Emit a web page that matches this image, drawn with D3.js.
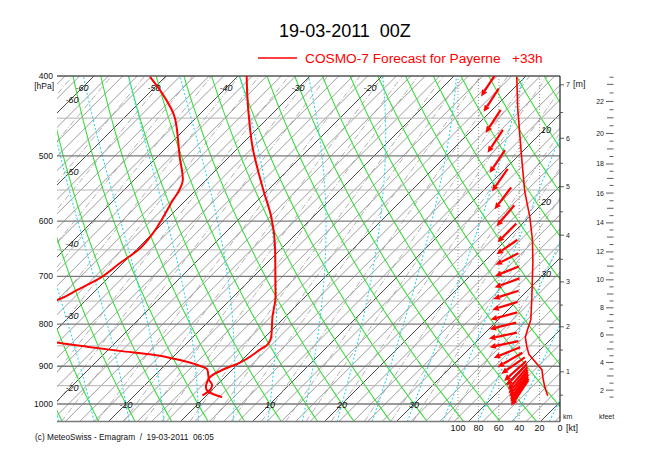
<!DOCTYPE html>
<html><head><meta charset="utf-8">
<script src="https://cdn.jsdelivr.net/npm/d3@7"></script>
<style>
body{margin:0;background:#fff}
svg{display:block}
text{font-family:"Liberation Sans",Arial,Helvetica,sans-serif}
</style>
</head><body>
<svg id="c" width="650" height="460"></svg>
<script>
// ---------------- data ----------------
const title = "19-03-2011  00Z";
const subtitle = "COSMO-7 Forecast for Payerne   +33h";
const footer = "(c) MeteoSwiss - Emagram  /  19-03-2011  06:05";

const pressureLabels = [400, 500, 600, 700, 800, 900, 1000];
const isobars = [400, 450, 500, 550, 600, 650, 700, 750, 800, 850, 900, 950, 1000, 1050];

// temperature profile (hPa, degC)
const tempP = [400, 420, 461, 488, 520, 553, 593, 650, 714, 740, 785, 828, 847, 858, 890, 910, 927, 940, 954, 965, 973, 981];
const tempT = [-38.8, -36.3, -31.3, -28.1, -24.2, -20.3, -15.8, -10.7, -6.0, -4.2, -1.7, 0.8, 1.4, 1.1, 0.1, -1.4, -2.1, -1.8, -1.25, -0.4, 0.8, 2.4];

// dew point profile (hPa, degC)
const dewP = [401, 420, 450, 502, 534, 553, 566, 593, 620, 650, 674, 703, 727, 748, 770, 800, 829, 842, 852, 862, 872, 882, 894, 908, 935, 948, 959, 970, 976];
const dewT = [-52.1, -48.1, -42.9, -36.8, -33.3, -32.2, -31.8, -30.8, -30.0, -29.7, -30.4, -31.1, -32.6, -34.0, -38, -45, -33, -28.2, -23.4, -18.3, -12.8, -9.4, -6.1, -3.5, -1.8, -0.7, -0.3, -0.4, -0.6];

// wind speed profile (hPa, kt)
const speedP = [401, 439, 506, 553, 593, 632, 674, 742, 790, 810, 830, 852, 870, 888, 909, 930, 955, 977];
const speedKt = [42.4, 41.4, 37.4, 34.5, 29.6, 27, 26.6, 27.6, 28.6, 31.5, 34, 32.5, 30.5, 24.6, 17.7, 16.7, 14.8, 12];

// wind arrows: level (hPa), direction (deg, from), arrow length (kt), centre on kt axis
const windP   = [410, 428, 454, 480, 508, 535, 563, 591, 620, 645, 667, 690, 713, 737, 760, 782, 804, 826, 846, 866, 884, 898, 912, 922, 931, 939, 946, 953, 959, 965, 970];
const windDir = [33, 33, 33, 34, 34, 35, 37, 40, 45, 55, 63, 68, 70, 72, 73, 75, 76, 78, 78, 68, 60, 55, 48, 44, 41, 39, 37, 36, 35, 35, 34];
const windLen = [27, 27, 27, 27, 27, 27, 27, 27, 26, 25, 25, 25, 26, 26, 26, 27, 27, 28, 29, 28, 28, 28, 29, 29, 29, 30, 30, 30, 30, 30, 30];
const windPos = [70, 67.5, 65.5, 63.5, 61.5, 59, 56, 53.5, 52, 52, 52, 52, 52, 53, 54, 55, 56, 56, 55, 52, 49, 46, 44, 42.5, 41.5, 41, 40.5, 40, 40, 39.5, 39.5];

// height axis: km levels and their pressures
const heightKm = [0, 1, 2, 3, 4, 5, 6, 7, 8];
const heightP  = [1037, 914, 806, 711, 624, 545, 476, 410, 357];
const kmLabels = [1, 2, 3, 4, 5, 6, 7];
const kfeetLabels = [2, 4, 6, 8, 10, 12, 14, 16, 18, 20, 22];

const ktTicks = [100, 80, 60, 40, 20, 0];
const ktGrid = [20, 40, 60, 80, 100];

const isoTopLabels = [-60, -50, -40, -30, -20];
const isoLeftLabels = [-60, -50, -40, -30, -20];
const isoRightLabels = [10, 20, 30];
const isoBottomLabels = [-10, 0, 10, 20, 30];

const mixRatios = [0.01, 0.02, 0.04, 0.07, 0.1, 0.15, 0.2, 0.3, 0.4, 0.6, 0.8, 1, 1.5, 2, 2.5, 3, 4, 5, 6, 8, 10, 12, 15, 20, 25, 30, 40];
const thetaW = d3.range(-30, 51, 5);
const thetaDry = d3.range(-40, 121, 5);

// ---------------- scales ----------------
const svg = d3.select("#c");
const X0 = 57, X1 = 560, Y0 = 76;
const pTop = 400, pBot = 1050;
const y = d3.scaleLog().domain([pTop, pBot]).range([Y0, Y0 + 358 * Math.log(pBot / pTop)]);
const Y1 = y(pBot);
const xT = d3.scaleLinear().domain([0, 10]).range([198, 270]);
const y1000 = y(1000);
const sx = (T, p) => xT(T) + (y1000 - y(p));
const kt = d3.scaleLinear().domain([0, 100]).range([560, 458]);
const pxPerKt = kt(0) - kt(1);
const hP = d3.scaleLinear().domain(heightKm).range(heightP);

const line = d3.line().x(d => d[0]).y(d => d[1]);
const pSamp = d3.range(pBot, pTop - 1, -5);

svg.append("defs").append("clipPath").attr("id", "clip")
  .append("rect").attr("x", X0).attr("y", Y0).attr("width", X1 - X0).attr("height", Y1 - Y0);

const grid = svg.append("g").attr("clip-path", "url(#clip)");

// isotherms
d3.range(-80, 70, 2).forEach(T => {
  const dark = T % 10 === 0;
  grid.append("line")
    .attr("x1", sx(T, pBot)).attr("y1", y(pBot))
    .attr("x2", sx(T, pTop)).attr("y2", y(pTop))
    .attr("stroke", dark ? "#333" : "#7c7c7c")
    .attr("stroke-width", dark ? 0.9 : 0.75);
});

// mixing ratio lines
function tdFromMix(w, p) {
  const e = w * p / (622 + w);
  const l = Math.log(e / 6.112);
  return 243.5 * l / (17.67 - l);
}
mixRatios.forEach(w => {
  grid.append("path")
    .attr("d", line(pSamp.map(p => [sx(tdFromMix(w, p), p), y(p)])))
    .attr("fill", "none").attr("stroke", "#8c8c8c").attr("stroke-width", 0.7)
    .attr("stroke-dasharray", "6,2,1,2");
});

// dry adiabats
thetaDry.forEach(th => {
  grid.append("path")
    .attr("d", line(pSamp.map(p => [sx((th + 273.15) * Math.pow(p / 1000, 0.2857) - 273.15, p), y(p)])))
    .attr("fill", "none").attr("stroke", "#3ddc3d").attr("stroke-width", 1.1);
});

// pseudo-adiabats
function dTdp(p, Tk) {
  const es = 6.112 * Math.exp(17.67 * (Tk - 273.15) / (Tk - 29.65));
  const rs = 0.622 * es / (p - es);
  const Lv = 2.501e6, Rd = 287.04, cp = 1005.7;
  return (Rd * Tk + Lv * rs) / (cp + Lv * Lv * rs * 0.622 / (Rd * Tk * Tk)) / p;
}
function moist(thw) {
  const up = []; let Tk = thw + 273.15;
  for (let p = 1000; p >= pTop - 0.1; p -= 5) {
    up.push([p, Tk]);
    const dp = -5, k1 = dTdp(p, Tk), k2 = dTdp(p + dp / 2, Tk + k1 * dp / 2);
    Tk += k2 * dp;
  }
  const down = []; Tk = thw + 273.15;
  for (let p = 1000; p <= pBot + 0.1; p += 5) {
    down.push([p, Tk]);
    const dp = 5, k1 = dTdp(p, Tk), k2 = dTdp(p + dp / 2, Tk + k1 * dp / 2);
    Tk += k2 * dp;
  }
  return down.reverse().concat(up.slice(1));
}
thetaW.forEach(th => {
  grid.append("path")
    .attr("d", line(moist(th).map(d => [sx(d[1] - 273.15, d[0]), y(d[0])])))
    .attr("fill", "none").attr("stroke", "#2fd8ec").attr("stroke-width", 1.1)
    .attr("stroke-dasharray", "2,2");
});

// isobars
isobars.forEach(p => {
  const major = p % 100 === 0 || p === pBot;
  svg.append("line")
    .attr("x1", X0).attr("x2", X1).attr("y1", y(p)).attr("y2", y(p))
    .attr("stroke", p === pTop ? "#555" : (major ? "#7a7a7a" : "#b4b4b4"))
    .attr("stroke-width", major ? 1.4 : 1);
});

// kt grid
ktGrid.forEach(k => {
  svg.append("line")
    .attr("x1", kt(k)).attr("x2", kt(k)).attr("y1", Y0).attr("y2", Y1)
    .attr("stroke", "#777").attr("stroke-width", 0.8).attr("stroke-dasharray", "1,2");
});

// right border
svg.append("line").attr("x1", X1).attr("x2", X1).attr("y1", Y0).attr("y2", Y1)
  .attr("stroke", "#222").attr("stroke-width", 1.2);

// pressure labels
const lbl = svg.append("g").attr("font-size", 8.5).attr("fill", "#111");
pressureLabels.forEach(p => {
  lbl.append("text").attr("x", 53).attr("y", y(p)).attr("dy", "0.35em")
    .attr("text-anchor", "end").text(p);
});
lbl.append("text").attr("x", 54).attr("y", y(pTop) + 10).attr("dy", "0.35em")
  .attr("text-anchor", "end").text("[hPa]");

// isotherm labels
const il = svg.append("g").attr("font-size", 9).attr("font-style", "italic").attr("fill", "#111")
  .attr("text-anchor", "middle");
isoTopLabels.forEach(T => {
  const yy = 88;
  il.append("text").attr("x", xT(T) + (y1000 - yy)).attr("y", yy).attr("dy", "0.35em").text(T);
});
isoLeftLabels.forEach(T => {
  const xx = 72;
  il.append("text").attr("x", xx).attr("y", y1000 + xT(T) - xx + 2).attr("dy", "0.35em").text(T);
});
isoRightLabels.forEach(T => {
  const xx = 546;
  il.append("text").attr("x", xx).attr("y", y1000 + xT(T) - xx + 2).attr("dy", "0.35em").text(T);
});
isoBottomLabels.forEach(T => {
  il.append("text").attr("x", xT(T)).attr("y", y1000 + 1).attr("dy", "0.35em").text(T);
});

// data lines
const dataG = svg.append("g").attr("clip-path", "url(#clip)");
const smooth = d3.line().curve(d3.curveMonotoneY).x(d => d[0]).y(d => d[1]);
dataG.append("path")
  .attr("d", smooth(dewP.map((p, i) => [sx(dewT[i], p), y(p)])))
  .attr("fill", "none").attr("stroke", "#ff0000").attr("stroke-width", 2).attr("stroke-linejoin", "round");
dataG.append("path")
  .attr("d", smooth(tempP.map((p, i) => [sx(tempT[i], p), y(p)])))
  .attr("fill", "none").attr("stroke", "#ff0000").attr("stroke-width", 2).attr("stroke-linejoin", "round");
dataG.append("path")
  .attr("d", line(speedP.map((p, i) => [kt(speedKt[i]), y(p)])))
  .attr("fill", "none").attr("stroke", "#ff0000").attr("stroke-width", 1.6).attr("stroke-linejoin", "round");

// wind arrows
windP.forEach((p, i) => {
  const a = windDir[i] * Math.PI / 180;
  const L = windLen[i] * pxPerKt;
  const ux = -Math.sin(a), uy = Math.cos(a);
  const mx = kt(windPos[i]), my = y(p);
  const tx = mx - ux * L / 2, ty = my - uy * L / 2;
  const hx = mx + ux * L / 2, hy = my + uy * L / 2;
  const hl = 6.5, hw = 3;
  const bx = hx - ux * hl, by = hy - uy * hl;
  dataG.append("line").attr("x1", tx).attr("y1", ty).attr("x2", bx).attr("y2", by)
    .attr("stroke", "#ff0000").attr("stroke-width", 2.2);
  dataG.append("path")
    .attr("d", `M${hx},${hy}L${bx - uy * hw},${by + ux * hw}L${bx + uy * hw},${by - ux * hw}Z`)
    .attr("fill", "#ff0000");
});

// km axis
const ax = svg.append("g").attr("font-size", 7).attr("fill", "#222");
d3.range(0.5, 7.6, 0.5).forEach(k => {
  const yy = y(hP(k));
  if (yy < Y0 || yy > Y1) return;
  const major = Number.isInteger(k);
  ax.append("line").attr("x1", X1).attr("x2", X1 + (major ? 4 : 3)).attr("y1", yy).attr("y2", yy)
    .attr("stroke", "#333").attr("stroke-width", 0.8);
});
kmLabels.forEach(k => {
  ax.append("text").attr("x", X1 + 6).attr("y", y(hP(k))).attr("dy", "0.35em").text(k);
});
ax.append("text").attr("x", 573).attr("y", 84).attr("dy", "0.35em").attr("font-size", 9).text("[m]");
ax.append("text").attr("x", 563).attr("y", 417).attr("dy", "0.35em").text("km");

// kfeet axis
d3.range(1.5, 24, 0.5).forEach(f => {
  const yy = y(hP(f * 0.3048));
  if (yy < Y0 || yy > Y1) return;
  const even = f % 2 === 0, odd = Number.isInteger(f) && !even;
  ax.append("line").attr("x1", even ? 606 : (odd ? 607 : 609.5)).attr("x2", 613.5)
    .attr("y1", yy).attr("y2", yy).attr("stroke", "#333").attr("stroke-width", 0.8);
});
kfeetLabels.forEach(f => {
  ax.append("text").attr("x", 604).attr("y", y(hP(f * 0.3048))).attr("dy", "0.35em")
    .attr("text-anchor", "end").text(f);
});
ax.append("text").attr("x", 599).attr("y", 417).attr("dy", "0.35em").text("kfeet");

// kt axis labels
const kl = svg.append("g").attr("font-size", 9).attr("fill", "#111");
ktTicks.forEach(k => {
  kl.append("text").attr("x", kt(k)).attr("y", 428).attr("dy", "0.35em").attr("text-anchor", "middle").text(k);
});
kl.append("text").attr("x", 566).attr("y", 428).attr("dy", "0.35em").text("[kt]");

// titles
svg.append("text").attr("x", 345).attr("y", 37).attr("text-anchor", "middle")
  .attr("font-size", 18).attr("fill", "#000").style("white-space", "pre").text(title);
svg.append("line").attr("x1", 258).attr("x2", 297).attr("y1", 58).attr("y2", 58)
  .attr("stroke", "#ff0000").attr("stroke-width", 1.5);
svg.append("text").attr("x", 305).attr("y", 63).attr("font-size", 13.7).attr("fill", "#ff0000")
  .style("white-space", "pre").text(subtitle);
svg.append("text").attr("x", 35).attr("y", 440).attr("font-size", 8.3).attr("fill", "#111")
  .style("white-space", "pre").text(footer);
</script>
</body></html>
